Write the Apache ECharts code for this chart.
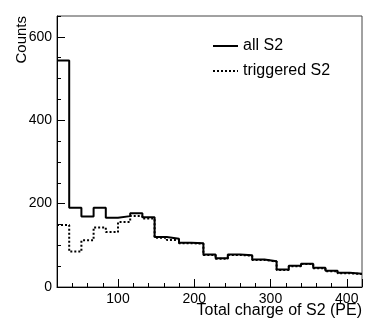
<!DOCTYPE html>
<html>
<head>
    <meta charset="utf-8">
    <title>S2 charge</title>
    <script src="https://cdn.jsdelivr.net/npm/echarts@6/dist/echarts.min.js"></script>
    <style>
        body { margin: 0; background: #fff; }
    </style>
</head>
<body>
    <div id="main" style="width:381px;height:331px;"></div>
    <script type="text/javascript">
        // bin edges (PE)
        var binEdges = [20, 36, 52, 68, 84, 100, 116, 132, 148, 164, 180, 196, 212,
                        228, 244, 260, 276, 292, 308, 324, 340, 356, 372, 388, 404, 420];
        // counts per bin
        var allS2 = [543, 190, 169, 190, 166, 170, 177, 167, 120, 116, 106, 105, 78,
                     69, 78, 76, 66, 62, 42, 51, 56, 46, 39, 34, 32];
        var triggeredS2 = [149, 85, 112, 143, 132, 156, 170, 164, 118, 113, 105, 104, 77,
                           68, 77, 75, 65, 61, 41, 50, 55, 45, 38, 33, 31];
        var xLabels = [100, 200, 300, 400];
        var yLabels = [0, 200, 400, 600];

        function toSteps(vals) {
            var pts = [];
            for (var i = 0; i < vals.length; i++) {
                pts.push([binEdges[i], vals[i]]);
            }
            pts.push([binEdges[binEdges.length - 1], vals[vals.length - 1]]);
            return pts;
        }

        var font = "Liberation Sans";
        var myChart = echarts.init(document.getElementById("main"));
        var option = {
            animation: false,
            textStyle: { fontFamily: font },
            grid: [
                { left: 57, right: 19, top: 16, bottom: 44, show: true,
                  borderColor: "#444", borderWidth: 1, backgroundColor: "transparent" },
                { left: 118, right: 19, top: 16, bottom: 44 }
            ],
            xAxis: [{
                type: "value", gridIndex: 0, min: 20, max: 420, interval: 20,
                axisLine: { lineStyle: { color: "#000", width: 1 } },
                axisTick: { inside: true, length: 4, lineStyle: { color: "#000" } },
                axisLabel: {
                    color: "#000", fontSize: 14, fontFamily: font, margin: 5,
                    formatter: function (v) { return xLabels.indexOf(v) >= 0 ? String(v) : ""; }
                },
                splitLine: { show: false }
            }, {
                // long ticks at every 100
                type: "value", gridIndex: 1, min: 100, max: 420, interval: 100,
                axisLine: { show: false },
                axisTick: { inside: true, length: 8, lineStyle: { color: "#000" } },
                axisLabel: { show: false },
                splitLine: { show: false }
            }],
            yAxis: [{
                type: "value", gridIndex: 0, min: 0, max: 650, interval: 50, position: "left",
                axisLine: { show: true, lineStyle: { color: "#000", width: 1 } },
                axisTick: { inside: true, length: 4, lineStyle: { color: "#000" } },
                axisLabel: { show: false },
                splitLine: { show: false }
            }, {
                type: "value", gridIndex: 0, min: 0, max: 650, interval: 200, position: "left",
                axisLine: { show: false },
                axisTick: { inside: true, length: 8, lineStyle: { color: "#000" } },
                axisLabel: {
                    color: "#000", fontSize: 14, fontFamily: font, margin: 5, showMaxLabel: false,
                    formatter: function (v) { return yLabels.indexOf(v) >= 0 ? String(v) : ""; }
                },
                splitLine: { show: false }
            }, {
                type: "value", gridIndex: 1, min: 0, max: 650, show: false
            }],
            legend: {
                orient: "vertical",
                left: 207,
                top: 33,
                itemWidth: 25,
                itemHeight: 14,
                itemGap: 9,
                itemStyle: { opacity: 0 },
                textStyle: { color: "#000", fontSize: 16, fontFamily: font },
                data: ["all S2", "triggered S2"]
            },
            graphic: [{
                type: "text", x: 362, y: 303,
                style: { text: "Total charge of S2 (PE)", fill: "#000", font: "16px " + font,
                         textAlign: "right", textVerticalAlign: "top" }
            }, {
                type: "text", x: 22, y: 16, rotation: Math.PI / 2,
                style: { text: "Counts", fill: "#000", font: "15px " + font,
                         textAlign: "right", textVerticalAlign: "middle" }
            }],
            series: [{
                name: "triggered S2",
                type: "line",
                step: "end",
                xAxisIndex: 0, yAxisIndex: 0,
                symbol: "none",
                lineStyle: { color: "#000", width: 2, type: [2, 2] },
                itemStyle: { color: "#000" },
                data: toSteps(triggeredS2)
            }, {
                name: "all S2",
                type: "line",
                step: "end",
                xAxisIndex: 0, yAxisIndex: 0,
                symbol: "none",
                lineStyle: { color: "#000", width: 2 },
                itemStyle: { color: "#000" },
                data: toSteps(allS2)
            }]
        };
        myChart.setOption(option);
    </script>
</body>
</html>
